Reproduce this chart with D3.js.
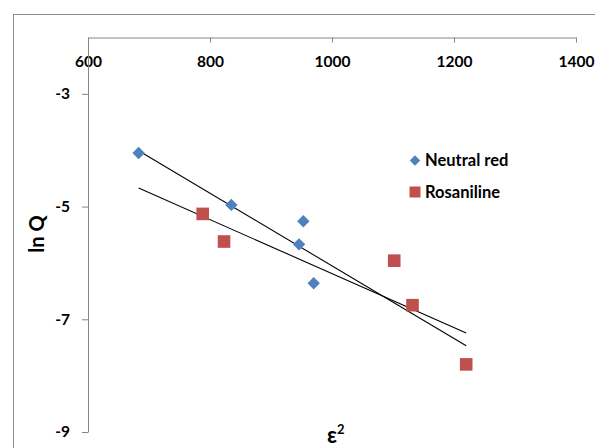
<!DOCTYPE html>
<html>
<head>
<meta charset="utf-8">
<script src="https://cdn.jsdelivr.net/npm/d3@7"></script>
<style>
  html, body { margin: 0; padding: 0; background: #fff; }
  svg { display: block; font-family: Lato, "Open Sans", sans-serif; font-weight: bold; }
</style>
</head>
<body>
<svg id="chart" width="595" height="448"></svg>
<script>
// ε² values and ln Q for each dye
const neutralRedX = [683, 835, 953, 946, 970];
const neutralRedY = [-4.05, -4.97, -5.26, -5.67, -6.36];
const rosanilineX = [788, 823, 1102, 1132, 1220];
const rosanilineY = [-5.13, -5.62, -5.96, -6.75, -7.80];

const xTicks = [600, 800, 1000, 1200, 1400];
const yTicks = [-3, -5, -7, -9];
const seriesNames = ["Neutral red", "Rosaniline"];
const seriesColors = ["#4F81BD", "#C0504D"];

const svg = d3.select("#chart");

// outer chart frame
svg.append("rect")
  .attr("x", 13.5).attr("y", 14.5)
  .attr("width", 700).attr("height", 600)
  .attr("fill", "none").attr("stroke", "#8c8c8c").attr("stroke-width", 1);

const x = d3.scaleLinear().domain([600, 1400]).range([88, 576]);
const y = d3.scaleLinear().domain([-9, -2]).range([432, 37.5]);

// plain number labels with an ASCII hyphen for negatives
const plain = d => String(d);

// horizontal axis along the top edge, ticks pointing into the plot
const xAxis = svg.append("g")
  .attr("transform", `translate(0,${y(-2)})`)
  .call(d3.axisBottom(x).tickValues(xTicks).tickSize(5).tickSizeOuter(0).tickPadding(13)
    .tickFormat(plain));
xAxis.selectAll("text").attr("font-size", 15.5).attr("fill", "#000");

const yAxis = svg.append("g")
  .attr("transform", `translate(${x(600)},0)`)
  .call(d3.axisLeft(y).tickValues(yTicks).tickSize(6).tickSizeOuter(0).tickPadding(12)
    .tickFormat(plain));
yAxis.selectAll("text").attr("font-size", 15.5).attr("fill", "#000");

svg.selectAll(".domain, .tick line").attr("stroke", "#868686");
svg.selectAll("g text").attr("font-family", "Lato, sans-serif").attr("font-weight", "bold");

// least-squares trend lines over the full ε² range
const allX = neutralRedX.concat(rosanilineX);
const xMin = d3.min(allX), xMax = d3.max(allX);
function fit(xs, ys) {
  const mx = d3.mean(xs), my = d3.mean(ys);
  let sxy = 0, sxx = 0;
  xs.forEach((v, i) => { sxy += (v - mx) * (ys[i] - my); sxx += (v - mx) * (v - mx); });
  const b = sxy / sxx;
  return v => my + b * (v - mx);
}
[[neutralRedX, neutralRedY], [rosanilineX, rosanilineY]].forEach(([xs, ys]) => {
  const f = fit(xs, ys);
  svg.append("line")
    .attr("x1", x(xMin)).attr("y1", y(f(xMin)))
    .attr("x2", x(xMax)).attr("y2", y(f(xMax)))
    .attr("stroke", "#000").attr("stroke-width", 1.1);
});

// markers
const diamond = s => `M0,${-s}L${s},0L0,${s}L${-s},0Z`;
svg.append("g").selectAll("path")
  .data(neutralRedX.map((v, i) => [v, neutralRedY[i]]))
  .join("path")
  .attr("transform", d => `translate(${x(d[0])},${y(d[1])})`)
  .attr("d", diamond(6.2))
  .attr("fill", seriesColors[0]);

svg.append("g").selectAll("rect")
  .data(rosanilineX.map((v, i) => [v, rosanilineY[i]]))
  .join("rect")
  .attr("x", d => x(d[0]) - 6.3).attr("y", d => y(d[1]) - 6.3)
  .attr("width", 12.6).attr("height", 12.6)
  .attr("fill", seriesColors[1]);

// legend
const legend = svg.append("g").attr("transform", "translate(415,0)");
legend.append("path").attr("transform", "translate(0,160.5)").attr("d", diamond(5.2)).attr("fill", seriesColors[0]);
legend.append("rect").attr("x", -5.5).attr("y", 186.5).attr("width", 11).attr("height", 11).attr("fill", seriesColors[1]);
legend.selectAll("text").data(seriesNames).join("text")
  .attr("x", 10).attr("y", (d, i) => 160.5 + i * 32)
  .attr("dy", "0.36em")
  .attr("font-size", 16.5)
  .text(d => d);

// axis titles
svg.append("text")
  .attr("transform", "translate(44,234) rotate(-90)")
  .attr("text-anchor", "middle")
  .attr("font-size", 20)
  .text("ln Q");

const xt = svg.append("text")
  .attr("x", 327).attr("y", 443)
  .attr("font-size", 22);
xt.append("tspan").text("ε");
xt.append("tspan").attr("dy", -9).attr("font-size", 13).text("2");
</script>
</body>
</html>
